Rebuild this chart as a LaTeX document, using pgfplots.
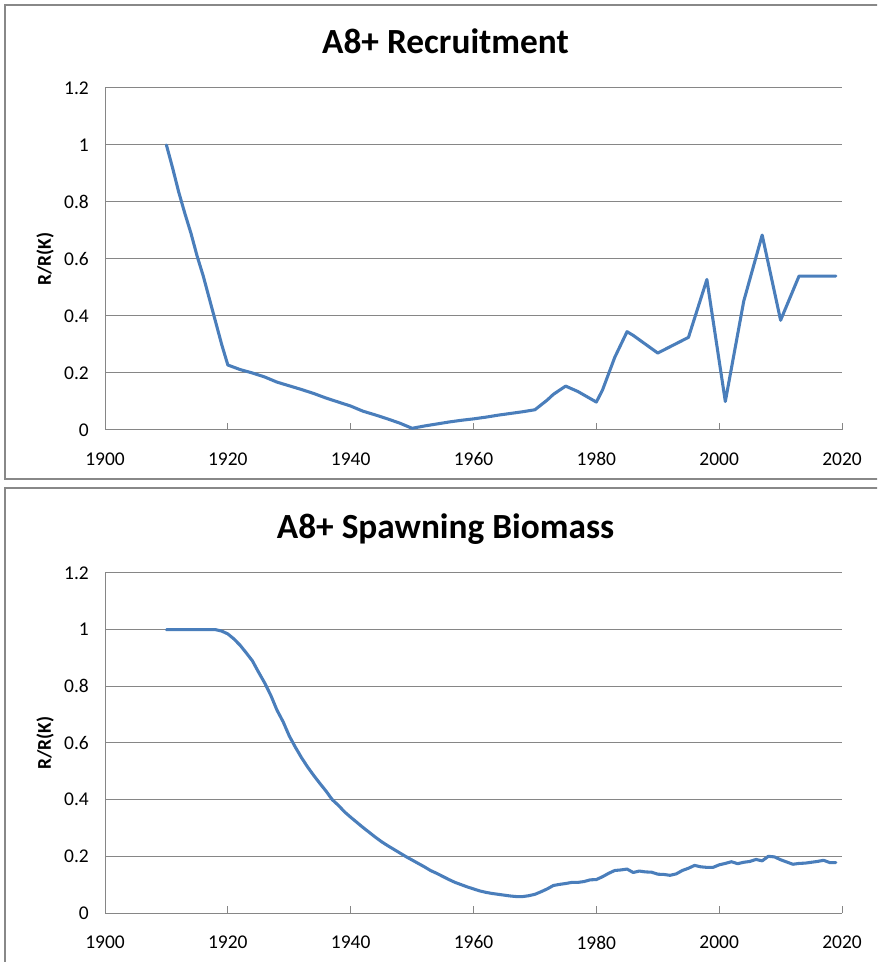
\documentclass[border=0pt]{standalone}
\usepackage{fontspec}
\setmainfont{Carlito}
\usepackage{pgfplots}
\pgfplotsset{compat=1.18}

\definecolor{xlblue}{RGB}{74,126,187}
\definecolor{gridgray}{RGB}{134,134,134}
\definecolor{framegray}{RGB}{136,136,136}

\pgfplotsset{
  panel/.style={
    scale only axis,
    width=552.75pt, height=256.5pt,
    xmin=1900, xmax=2020, ymin=0, ymax=1.2,
    xtick={1900,1920,1940,1960,1980,2000,2020},
    ytick={0,0.2,0.4,0.6,0.8,1,1.2},
    axis x line*=bottom, axis y line*=left,
    axis line style={draw=gridgray, line width=0.75pt},
    ymajorgrids, grid style={draw=gridgray, line width=0.75pt},
    tick align=inside,
    xtick style={draw=gridgray, line width=0.75pt},
    major tick length=5pt,
    ytick style={draw=none},
    /pgf/number format/assume math mode=true,
    /pgf/number format/set thousands separator={},
    tick label style={font=\fontsize{14.6}{17}\selectfont, text=black},
    xticklabel style={yshift=-13.5pt},
    yticklabel style={xshift=-8.6pt},
    ylabel={R/R(K)},
    ylabel style={at={(axis description cs:-0.0814,0.5)}, anchor=center,
                  font=\fontsize{14.6}{17}\selectfont\bfseries},
    title style={at={(axis description cs:0.5,1)}, anchor=base,
                 yshift=20pt, xshift=-21pt,
                 font=\fontsize{26.5}{30}\selectfont\bfseries},
    clip=false,
  },
  series/.style={xlblue, line width=2.3pt, line join=round, line cap=round},
}

\begin{document}
\begin{tikzpicture}
\useasboundingbox (0,0) rectangle (657.75pt,721.5pt);
\clip (0,0) rectangle (657.75pt,721.5pt);

% panel frames
\draw[framegray, line width=1.3pt] (3.75pt,362.25pt) rectangle (690pt,717.75pt);
\draw[framegray, line width=1.3pt] (3.75pt,-20pt) rectangle (690pt,355.5pt);

\begin{axis}[panel, at={(78.75pt,399pt)}, anchor=south west,
  title={A8+ Recruitment}]
\addplot[series] coordinates {
(1910,1.000) (1911,0.920) (1912,0.835) (1913,0.760) (1914,0.690)
(1915,0.610) (1916,0.540) (1917,0.460) (1918,0.380) (1919,0.300)
(1920,0.228) (1922,0.212) (1924,0.200) (1926,0.186) (1928,0.168)
(1930,0.155) (1932,0.142) (1934,0.128) (1936,0.112) (1938,0.098)
(1940,0.084) (1942,0.066) (1944,0.053) (1946,0.039) (1948,0.024)
(1950,0.006) (1952,0.014) (1954,0.021) (1956,0.028) (1958,0.034)
(1960,0.039) (1962,0.045) (1964,0.052) (1966,0.058) (1968,0.064)
(1970,0.071) (1972,0.105) (1973,0.125) (1975,0.154) (1977,0.135)
(1980,0.098) (1981,0.140) (1983,0.255) (1985,0.345) (1986,0.332)
(1990,0.270) (1995,0.325) (1998,0.528) (2001,0.100) (2004,0.452)
(2007,0.684) (2010,0.385) (2013,0.540) (2019,0.540)
};
\end{axis}

\begin{axis}[panel, at={(78.75pt,36.75pt)}, anchor=south west,
  height=255pt, title={A8+ Spawning Biomass}]
\addplot[series] coordinates {
(1910,1.000) (1918,1.000) (1919,0.995) (1920,0.985) (1921,0.967)
(1922,0.945) (1923,0.918) (1924,0.890) (1925,0.850) (1926,0.812)
(1927,0.768) (1928,0.716) (1929,0.675) (1930,0.625) (1931,0.585)
(1932,0.548) (1933,0.515) (1934,0.485) (1935,0.457) (1936,0.430)
(1937,0.400) (1938,0.380) (1939,0.357) (1940,0.338) (1941,0.320)
(1942,0.302) (1943,0.285) (1944,0.268) (1945,0.252) (1946,0.238)
(1947,0.225) (1948,0.212) (1949,0.199) (1950,0.187) (1951,0.175)
(1952,0.163) (1953,0.150) (1954,0.140) (1955,0.129) (1956,0.118)
(1957,0.108) (1958,0.100) (1959,0.092) (1960,0.085) (1961,0.078)
(1962,0.073) (1963,0.069) (1964,0.066) (1965,0.063) (1966,0.060)
(1967,0.058) (1968,0.058) (1969,0.061) (1970,0.066) (1971,0.075)
(1972,0.085) (1973,0.097) (1974,0.101) (1975,0.104) (1976,0.108)
(1977,0.108) (1978,0.111) (1979,0.117) (1980,0.118) (1981,0.128)
(1982,0.140) (1983,0.150) (1984,0.152) (1985,0.155) (1986,0.143)
(1987,0.148) (1988,0.145) (1989,0.144) (1990,0.137) (1991,0.136)
(1992,0.133) (1993,0.138) (1994,0.150) (1995,0.158) (1996,0.168)
(1997,0.163) (1998,0.161) (1999,0.161) (2000,0.170) (2001,0.175)
(2002,0.181) (2003,0.174) (2004,0.179) (2005,0.182) (2006,0.189)
(2007,0.184) (2008,0.200) (2009,0.198) (2010,0.188) (2011,0.180)
(2012,0.172) (2013,0.175) (2014,0.176) (2015,0.179) (2016,0.182)
(2017,0.186) (2018,0.178) (2019,0.178)
};
\end{axis}
\end{tikzpicture}
\end{document}
